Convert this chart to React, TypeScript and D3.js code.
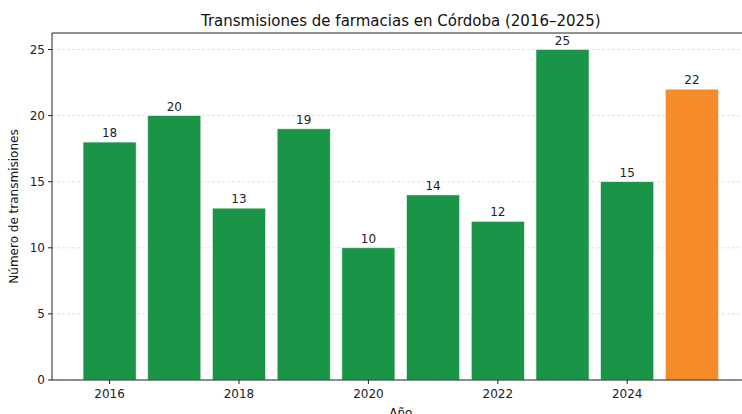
import React from "react";
import * as d3 from "d3";

const years = [2016, 2017, 2018, 2019, 2020, 2021, 2022, 2023, 2024, 2025];
const values = [18, 20, 13, 19, 10, 14, 12, 25, 15, 22];
const xTicks = [2016, 2018, 2020, 2022, 2024];
const yTicks = [0, 5, 10, 15, 20, 25];
const highlightYear = 2025;

const W = 742;
const H = 414;
const FONT = "DejaVu Sans, sans-serif";

export default function App() {
  const left = 52;
  const right = 749.5;
  const top = 33;
  const bottom = 380;
  const barW = 0.82;

  const x = d3.scaleLinear().domain([2015.11, 2025.89]).range([left, right]);
  const y = d3.scaleLinear().domain([0, 26.25]).range([bottom, top]);

  return (
    <svg width={W} height={H} style={{ position: "absolute", left: 0, top: 0, background: "#fff" }} fontFamily={FONT}>
      {yTicks.map((t) => (
        <line key={"g" + t} x1={left} x2={right} y1={y(t)} y2={y(t)} stroke="#d9d9d9" strokeWidth={0.8} strokeDasharray="3,2" />
      ))}
      {years.map((yr, i) => {
        const x0 = x(yr - barW / 2);
        const x1 = x(yr + barW / 2);
        return (
          <g key={yr}>
            <rect x={x0} y={y(values[i])} width={x1 - x0} height={bottom - y(values[i])}
              fill={yr === highlightYear ? "#f68b2a" : "#1a9548"} stroke="#e8f3ea" strokeWidth={0.6} />
            <text x={x(yr)} y={y(values[i]) - 5} textAnchor="middle" fontSize={12} fill="#222">{values[i]}</text>
          </g>
        );
      })}
      {/* spines */}
      <line x1={left} x2={left} y1={top} y2={bottom} stroke="#222" strokeWidth={1} />
      <line x1={left} x2={W} y1={bottom} y2={bottom} stroke="#222" strokeWidth={1} />
      <line x1={left} x2={W} y1={top} y2={top} stroke="#222" strokeWidth={1} />
      {yTicks.map((t) => (
        <g key={"y" + t}>
          <line x1={left - 4} x2={left} y1={y(t)} y2={y(t)} stroke="#222" />
          <text x={left - 7} y={y(t)} dy="0.35em" textAnchor="end" fontSize={12} fill="#222">{t}</text>
        </g>
      ))}
      {xTicks.map((t) => (
        <g key={"x" + t}>
          <line x1={x(t)} x2={x(t)} y1={bottom} y2={bottom + 4} stroke="#222" />
          <text x={x(t)} y={bottom + 18} textAnchor="middle" fontSize={12} fill="#222">{t}</text>
        </g>
      ))}
      <text x={(left + right) / 2} y={26} textAnchor="middle" fontSize={15} fill="#111">
        Transmisiones de farmacias en Córdoba (2016–2025)
      </text>
      <text transform={`translate(18,${(top + bottom) / 2}) rotate(-90)`} textAnchor="middle" fontSize={12} fill="#111">
        Número de transmisiones
      </text>
      <text x={(left + right) / 2} y={417} textAnchor="middle" fontSize={12} fill="#111">Año</text>
    </svg>
  );
}
